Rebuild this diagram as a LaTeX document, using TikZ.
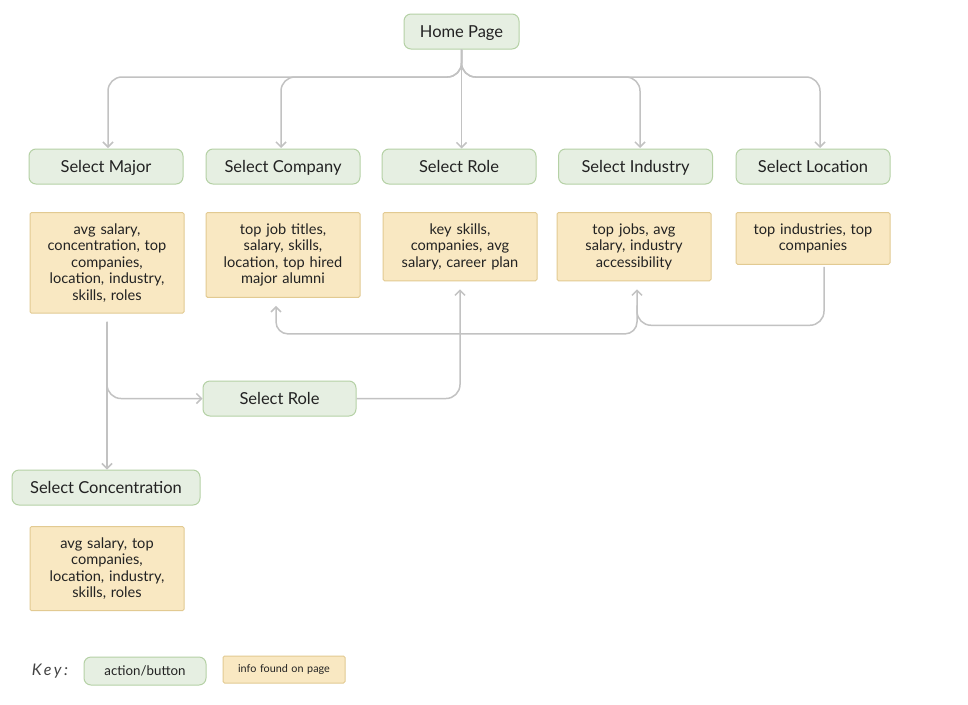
\documentclass[tikz,border=0pt]{standalone}
\usepackage{fontspec}
\setmainfont{Lato}
\usepackage{xcolor}
\usetikzlibrary{arrows.meta}

\definecolor{btnfill}{HTML}{E6EFE2}
\definecolor{btnline}{HTML}{B5D1A5}
\definecolor{infofill}{HTML}{F9E8C2}
\definecolor{infoline}{HTML}{E2CA92}
\definecolor{linkgray}{HTML}{C2C2C2}
\definecolor{txt}{HTML}{222222}

\tikzset{
    btn/.style={draw=btnline, fill=btnfill, line width=1pt, rounded corners=7pt,
        minimum width=154pt, minimum height=35pt, text=txt,
        text height=13pt, text depth=1.5pt,
        font=\fontsize{16.5}{19}\selectfont},
    info/.style={draw=infoline, fill=infofill, line width=1pt, rounded corners=1.5pt,
        anchor=north, minimum width=154pt, text width=150pt, align=center,
        inner xsep=2pt, inner ysep=11pt, text=txt,
        font=\fontsize{14.6}{16.5}\selectfont},
    link/.style={draw=linkgray, line width=1.5pt, -{Straight Barb[length=5pt,width=10pt]}},
}

\begin{document}
\begin{tikzpicture}[x=1pt, y=-1pt]
    \useasboundingbox[fill=white] (0,0) rectangle (968,704);

    % Home and first row of buttons
    \node[btn, minimum width=115pt] (home) at (461.5,31.5) {Home Page};
    \node[btn] (major) at (106,166.5) {Select Major};
    \node[btn] (company) at (283,166.5) {Select Company};
    \node[btn] (role) at (459,166.5) {Select Role};
    \node[btn] (industry) at (635.5,166.5) {Select Industry};
    \node[btn] (location) at (813,166.5) {Select Location};

    % Info found on each page
    \node[info] (majorinfo) at (107,212) {avg salary,\\ concentration, top\\ companies,\\ location, industry,\\ skills, roles};
    \node[info] (companyinfo) at (283,212) {top job titles,\\ salary, skills,\\ location, top hired\\ major alumni};
    \node[info] (roleinfo) at (460,212) {key skills,\\ companies, avg\\ salary, career plan};
    \node[info] (industryinfo) at (634,212) {top jobs, avg\\ salary, industry\\ accessibility};
    \node[info] (locationinfo) at (813,212) {top industries, top\\ companies};

    % Second level
    \node[btn, minimum width=153pt] (role2) at (279.5,398.5) {Select Role};
    \node[btn, minimum width=188pt] (conc) at (106,487.5) {Select Concentration};
    \node[info] (concinfo) at (107,526) {avg salary, top\\ companies,\\ location, industry,\\ skills, roles};

    % Key
    \node[text=txt!85, font=\fontsize{16}{19}\selectfont\itshape\addfontfeatures{LetterSpace=16}] (keylabel) at (50,671) {Key:};
    \node[btn, minimum width=122pt, minimum height=28pt, text height=10.5pt, text depth=1.5pt, font=\fontsize{13.3}{15}\selectfont] (keybtn) at (145,671) {action/button};
    \node[info, anchor=center, minimum width=122pt, text width=118pt, minimum height=27pt, inner ysep=4pt, font=\fontsize{10.8}{13}\selectfont] (keyinfo) at (284,669.5) {info found on page};

    % Home page links
    \coordinate (bus) at (461,77);
    \draw[link, rounded corners=14pt] (home.south) |- (bus -| 108,0) -- (108,148);
    \draw[link, rounded corners=14pt] (home.south) |- (bus -| 281,0) -- (281,148);
    \draw[link] (home.south) -- (home.south |- role.north);
    \draw[link, rounded corners=14pt] (home.south) |- (bus -| 640,0) -- (640,148);
    \draw[link, rounded corners=14pt] (home.south) |- (bus -| 820,0) -- (820,148);

    % Major page links
    \draw[link] ([yshift=-8pt]majorinfo.south) -- (majorinfo.south |- conc.north);
    \draw[link, rounded corners=14pt] ([yshift=-8pt]majorinfo.south) |- (role2.west);
    \draw[link, rounded corners=14pt] (role2.east) -| ([yshift=-8pt]roleinfo.south);

    % Location and industry page links
    \draw[link, rounded corners=14pt] ([xshift=11pt,yshift=-2pt]locationinfo.south)
        |- ([xshift=3pt,yshift=-44pt]industryinfo.south) -- ([xshift=3pt,yshift=-8pt]industryinfo.south);
    \draw[link, rounded corners=12pt] ([xshift=3pt,yshift=-24pt]industryinfo.south)
        |- ([xshift=-7pt,yshift=-36pt]companyinfo.south) -- ([xshift=-7pt,yshift=-8pt]companyinfo.south);
\end{tikzpicture}
\end{document}
